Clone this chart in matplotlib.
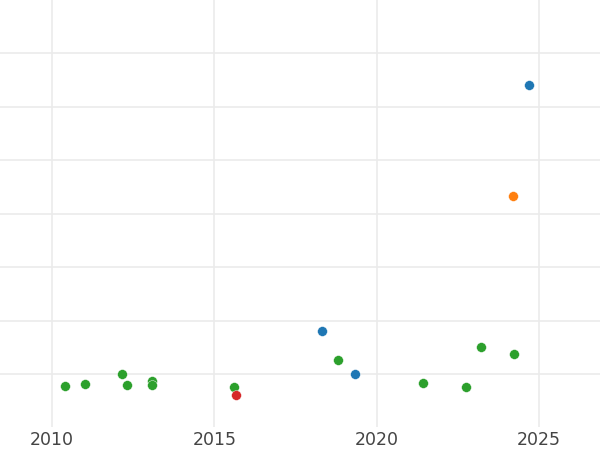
import numpy as np
import matplotlib.pyplot as plt

# points grouped by colour: (year, value)
blue_x = [2018.31, 2019.33, 2024.70]
blue_y = [0.81, 0.01, 5.41]

orange_x = [2024.21]
orange_y = [3.33]

green_x = [2010.40, 2011.03, 2012.16, 2012.31, 2013.08, 2013.07, 2015.61,
           2018.82, 2021.42, 2022.74, 2023.20, 2024.22]
green_y = [-0.22, -0.18, 0.01, -0.21, -0.12, -0.20, -0.24,
           0.26, -0.17, -0.25, 0.50, 0.37]

red_x = [2015.67]
red_y = [-0.39]

x_ticks = [2010, 2015, 2020, 2025]

fig = plt.figure(figsize=(6, 4.5), dpi=100)
ax = fig.add_axes([0, 23 / 450, 1, 427 / 450])

for xs, ys, c in [(blue_x, blue_y, '#1f77b4'), (orange_x, orange_y, '#ff7f0e'),
                  (green_x, green_y, '#2ca02c'), (red_x, red_y, '#d62728')]:
    ax.scatter(xs, ys, s=50, color=c, edgecolor='white', linewidth=0.3, zorder=3)

ax.set_xlim(2008.40, 2026.88)
ax.set_ylim(-0.99, 7.0)
ax.set_xticks(x_ticks)
ax.set_xticklabels([str(t) for t in x_ticks])
ax.set_yticks(np.arange(0, 7, 1))
ax.set_yticklabels([])
ax.grid(True, color='#ebebeb', linewidth=1.2)
ax.set_axisbelow(True)
ax.tick_params(length=0, labelsize=12.5, labelcolor='#444444', pad=3)
for s in ax.spines.values():
    s.set_visible(False)

fig.savefig('out.png', dpi=100)
